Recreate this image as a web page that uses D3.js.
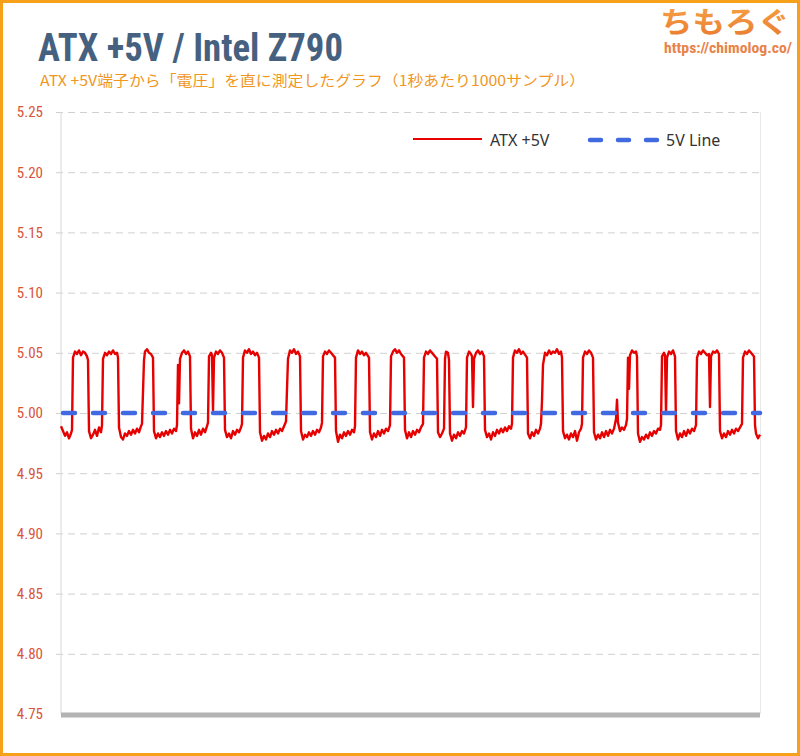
<!DOCTYPE html>
<html><head><meta charset="utf-8">
<script src="https://cdn.jsdelivr.net/npm/d3@7"></script>
<style>
html,body{margin:0;padding:0;background:#fff;}
svg{display:block;}
</style></head>
<body>
<svg id="c" width="800" height="756"></svg>
<script>
// ---- data ----
const title = "ATX +5V / Intel Z790";
const subtitle = "ATX +5V端子から「電圧」を直に測定したグラフ（1秒あたり1000サンプル）";
const yTicks = [4.75, 4.80, 4.85, 4.90, 4.95, 5.00, 5.05, 5.10, 5.15, 5.20, 5.25];
const seriesNames = ["ATX +5V", "5V Line"];
const refLine = [[0, 5.0], [699, 5.0]];
const atx5v = [
[0,4.989],[2,4.985],[4,4.981],[6,4.984],[8,4.979],[10,4.983],[11,4.986],
[12,5.046],[14,5.051],[16,5.049],[18,5.052],[20,5.048],[22,5.051],[24,5.050],[26,5.047],[27,5.044],
[28,4.985],[30,4.979],[32,4.982],[34,4.986],[36,4.981],[38,4.988],[40,4.984],[41,4.990],
[42,5.045],[44,5.050],[46,5.048],[48,5.051],[50,5.049],[52,5.052],[54,5.049],[56,5.050],[57,5.046],
[58,4.988],[60,4.980],[62,4.978],[64,4.983],[66,4.981],[68,4.985],[70,4.982],[72,4.986],[74,4.983],[76,4.987],[78,4.984],[80,4.989],[81,4.991],
[83,5.044],[84,5.051],[86,5.053],[88,5.050],[90,5.049],[92,5.046],
[93,4.985],[95,4.979],[97,4.983],[99,4.980],[101,4.984],[103,4.981],[105,4.985],[107,4.982],[109,4.986],[111,4.983],[113,4.987],[115,4.985],[116,4.990],
[117,5.040],[118,5.008],[119,5.045],[121,5.050],[123,5.052],[125,5.049],[127,5.051],[129,5.047],
[130,4.987],[132,4.979],[134,4.984],[136,4.981],[138,4.986],[140,4.982],[142,4.987],[144,4.984],[146,4.989],[147,4.992],
[148,5.047],[150,5.050],[151,5.048],[152,5.002],[153,5.046],[155,5.051],[157,5.049],[159,5.052],[161,5.050],[163,5.046],
[164,4.986],[166,4.980],[168,4.983],[170,4.979],[172,4.985],[174,4.982],[176,4.986],[178,4.984],[180,4.988],[181,4.991],
[182,5.046],[184,5.052],[186,5.050],[188,5.053],[190,5.049],[192,5.051],[194,5.048],[196,5.050],[198,5.046],
[199,4.984],[201,4.977],[203,4.981],[205,4.978],[207,4.983],[209,4.980],[211,4.985],[213,4.982],[215,4.986],[217,4.983],[219,4.987],[221,4.985],[223,4.989],[225,4.993],
[226,5.020],[227,5.045],[229,5.052],[231,5.050],[233,5.053],[235,5.049],[237,5.051],[239,5.047],
[240,4.985],[242,4.978],[244,4.982],[246,4.980],[248,4.984],[250,4.981],[252,4.985],[254,4.982],[256,4.986],[258,4.984],[260,4.988],[261,4.992],
[262,5.047],[264,5.051],[266,5.049],[268,5.052],[270,5.050],[272,5.048],[274,5.046],
[275,4.985],[277,4.976],[279,4.982],[281,4.979],[283,4.984],[285,4.981],[287,4.985],[289,4.982],[291,4.986],[293,4.984],[294,4.989],
[295,5.046],[297,5.052],[299,5.049],[301,5.051],[303,5.048],[305,5.050],[308,5.046],
[309,4.984],[311,4.978],[313,4.983],[315,4.980],[317,4.985],[319,4.981],[321,4.986],[323,4.983],[325,4.987],[327,4.985],[329,4.990],
[330,5.047],[332,5.051],[334,5.053],[336,5.050],[338,5.052],[340,5.049],[343,5.046],
[344,4.986],[346,4.979],[348,4.984],[350,4.980],[352,4.985],[354,4.982],[356,4.986],[358,4.984],[360,4.988],[362,4.991],
[363,5.046],[365,5.051],[367,5.049],[369,5.052],[371,5.050],[373,5.048],[376,5.045],
[377,4.984],[379,4.980],[381,4.983],[383,4.987],
[384,5.045],[385,5.051],[387,5.050],[388,5.044],
[389,4.983],[391,4.977],[393,4.982],[395,4.979],[397,4.984],[399,4.981],[401,4.985],[403,4.983],[405,4.988],
[406,5.046],[408,5.051],[410,5.049],[411,5.047],[412,5.005],[413,5.045],[415,5.050],[417,5.052],[419,5.049],[421,5.051],[423,5.047],
[424,4.986],[426,4.980],[428,4.983],[430,4.978],[432,4.984],[434,4.981],[436,4.986],[438,4.983],[440,4.987],[442,4.984],[444,4.988],[446,4.985],[448,4.989],[450,4.987],[451,4.991],
[452,5.046],[454,5.052],[456,5.050],[458,5.053],[460,5.049],[462,5.051],[466,5.046],
[467,4.983],[469,4.979],[471,4.984],[473,4.981],[475,4.986],[477,4.983],[479,4.987],[480,4.991],
[481,5.010],[482,5.040],[484,5.050],[486,5.048],[488,5.052],[490,5.049],[492,5.051],[494,5.050],[496,5.053],[498,5.049],[500,5.051],[501,5.046],
[502,4.985],[504,4.979],[506,4.982],[508,4.978],[510,4.983],[512,4.980],[514,4.985],[516,4.977],[518,4.984],[520,4.987],[521,4.991],
[522,5.046],[524,5.051],[526,5.049],[528,5.052],[530,5.050],[532,5.046],
[533,4.984],[535,4.978],[537,4.982],[539,4.979],[541,4.984],[543,4.980],[545,4.985],[547,4.981],[549,4.986],[551,4.983],[553,4.987],[555,4.995],[556,5.011],[557,4.992],[559,4.985],[561,4.988],[563,4.986],[565,4.990],[566,4.995],
[567,5.046],[568,5.020],[569,5.048],[571,5.052],[573,5.050],[575,5.051],[576,5.047],
[577,4.983],[579,4.976],[581,4.980],[583,4.978],[585,4.982],[587,4.979],[589,4.984],[591,4.981],[593,4.985],[595,4.983],[597,4.987],[599,4.986],[600,4.990],
[601,5.047],[603,5.050],[604,5.048],[605,5.000],[606,5.046],[608,5.051],[610,5.049],[612,5.052],[614,5.047],
[615,4.985],[617,4.978],[619,4.983],[621,4.980],[623,4.985],[625,4.981],[627,4.986],[629,4.983],[631,4.987],[633,4.985],[635,4.990],
[636,5.046],[638,5.051],[640,5.049],[642,5.052],[644,5.050],[646,5.048],[648,5.049],[649,5.005],[650,5.047],[652,5.051],[654,5.050],[656,5.052],[658,5.049],
[659,4.985],[661,4.979],[663,4.983],[665,4.980],[667,4.985],[669,4.982],[671,4.986],[673,4.983],[675,4.987],[677,4.985],[679,4.988],[681,4.991],
[682,5.046],[684,5.051],[686,5.049],[688,5.052],[690,5.050],[693,5.047],
[694,4.990],[695,4.983],[697,4.979],[699,4.982]
];

// ---- layout ----
const W = 800, H = 756;
const m = {left: 61, right: 760, top: 112, bottom: 714};
const svg = d3.select("#c");

// border
svg.append("rect").attr("x",1.5).attr("y",1.5).attr("width",W-3).attr("height",H-3)
  .attr("fill","#fff").attr("stroke","#f7a11a").attr("stroke-width",3);

const x = d3.scaleLinear().domain([0, 699]).range([m.left, m.right]);
const y = d3.scaleLinear().domain([4.75, 5.25]).range([m.bottom, m.top]);

// grid + y axis
const yAxis = d3.axisLeft(y).tickValues(yTicks).tickFormat(d3.format(".2f"))
  .tickSize(-(m.right - m.left + 5)).tickPadding(13);
const gy = svg.append("g").attr("transform", `translate(${m.left - 5},0)`).call(yAxis);
gy.select(".domain").remove();
gy.selectAll(".tick line").attr("stroke","#d0d0d0").attr("stroke-dasharray","7,5").attr("stroke-width",1);
gy.selectAll(".tick text").attr("fill","#d9553a")
  .style("font-family","'Liberation Sans Narrow','Roboto Condensed',Roboto,sans-serif")
  .style("font-size","15px");
gy.selectAll(".tick").filter(d => d === 4.75).select("line").remove();

// left axis line & right border
svg.append("line").attr("x1",m.left).attr("x2",m.left).attr("y1",m.top).attr("y2",m.bottom)
  .attr("stroke","#d8d8d8").attr("stroke-width",1);
svg.append("line").attr("x1",m.right+0.5).attr("x2",m.right+0.5).attr("y1",m.top).attr("y2",m.bottom)
  .attr("stroke","#e8e8e8").attr("stroke-width",1);

// bottom bar
svg.append("line").attr("x1",m.left).attr("x2",m.right).attr("y1",y(4.75)+1).attr("y2",y(4.75)+1)
  .attr("stroke","#b3b3b3").attr("stroke-width",5);

// series
const line = d3.line().x(d => x(d[0])).y(d => y(d[1]));
svg.append("path").datum(atx5v).attr("d", line).attr("fill","none")
  .attr("stroke","#e60000").attr("stroke-width",2.4).attr("stroke-linejoin","round");
svg.append("path").datum(refLine).attr("d", line).attr("fill","none")
  .attr("stroke","#4169e1").attr("stroke-width",4.5).attr("stroke-linecap","round")
  .attr("stroke-dasharray","12,18").attr("stroke-dashoffset",-2);

// legend
const lg = svg.append("g").style("font-family","'Noto Sans',sans-serif").style("font-size","16px");
lg.append("line").attr("x1",413).attr("x2",482).attr("y1",139).attr("y2",139)
  .attr("stroke","#e60000").attr("stroke-width",2);
lg.append("text").attr("x",490).attr("y",146).attr("fill","#333").text(seriesNames[0]);
lg.append("line").attr("x1",590).attr("x2",657).attr("y1",140).attr("y2",140)
  .attr("stroke","#4169e1").attr("stroke-width",4.5).attr("stroke-linecap","round")
  .attr("stroke-dasharray","11,17");
lg.append("text").attr("x",666).attr("y",146).attr("fill","#333").text(seriesNames[1]);

// titles
svg.append("text").attr("x",38).attr("y",61).attr("fill","#45617f")
  .style("font-family","'Liberation Sans Narrow','Roboto Condensed',Roboto,sans-serif")
  .style("font-weight","bold").style("font-size","38px")
  .attr("textLength",305).attr("lengthAdjust","spacingAndGlyphs").text(title);
svg.append("text").attr("x",40).attr("y",86).attr("fill","#f0961e")
  .style("font-family","'Noto Sans CJK JP',sans-serif").style("font-size","14.5px")
  .attr("textLength",545).attr("lengthAdjust","spacingAndGlyphs").text(subtitle);

// logo
const defs = svg.append("defs");
const gr = defs.append("linearGradient").attr("id","lg1").attr("x1","0").attr("y1","0").attr("x2","0").attr("y2","1");
gr.append("stop").attr("offset","0").attr("stop-color","#f8a84a");
gr.append("stop").attr("offset","1").attr("stop-color","#e8782e");
svg.append("text").attr("x",660).attr("y",33).attr("fill","url(#lg1)")
  .style("font-family","'Noto Sans CJK JP',sans-serif").style("font-weight","bold").style("font-size","29px")
  .attr("textLength",130).attr("lengthAdjust","spacingAndGlyphs").text("ちもろぐ");
svg.append("text").attr("x",664).attr("y",53).attr("fill","#e8834a")
  .style("font-family","'Liberation Sans Narrow','Roboto Condensed',Roboto,sans-serif")
  .style("font-weight","bold").style("font-size","14px")
  .attr("textLength",128).attr("lengthAdjust","spacingAndGlyphs").text("https://chimolog.co/");
</script>
</body></html>
